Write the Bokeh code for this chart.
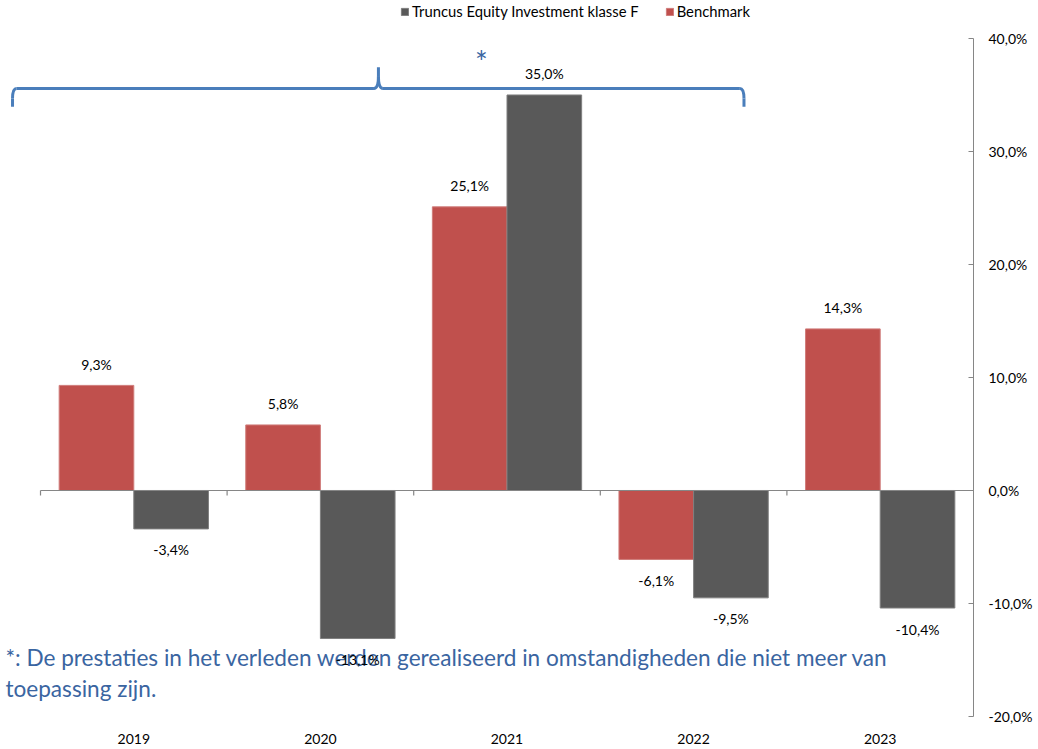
from bokeh.plotting import figure
from bokeh.models import Range1d, FixedTicker, Legend, LegendItem, ColumnDataSource
from bokeh.embed import file_html
from bokeh.resources import INLINE
from bokeh.core.properties import value
from bokeh.transform import dodge

# ---------------- data ----------------
years = ["2019", "2020", "2021", "2022", "2023"]
benchmark = [9.3, 5.8, 25.1, -6.1, 14.3]
truncus = [-3.4, -13.1, 35.0, -9.5, -10.4]
y_ticks = [-20, -10, 0, 10, 20, 30, 40]
series_names = ["Truncus Equity Investment klasse F", "Benchmark"]
footnote_lines = [
    "*: De prestaties in het verleden werden gerealiseerd in omstandigheden die niet meer van",
    "toepassing zijn.",
]
asterisk = "*"

# ---------------- style ----------------
FONT = "Lato"
RED = "#C0504D"
GREY = "#595959"
BRACE_BLUE = "#4A7EBB"
TEXT_BLUE = "#3A65A1"
AXIS = "#868686"


def pct(v):
    return f"{v:.1f}%".replace(".", ",")


centers = [i + 0.5 for i in range(len(years))]
src = ColumnDataSource(dict(
    x=centers,
    bench=benchmark,
    trunc=truncus,
    bench_lbl=[pct(v) for v in benchmark],
    trunc_lbl=[pct(v) for v in truncus],
    bench_off=[-21 if v >= 0 else 21 for v in benchmark],
    trunc_off=[-21 if v >= 0 else 21 for v in truncus],
))

p = figure(width=1038, height=749, output_backend="svg", toolbar_location=None,
           x_range=Range1d(-0.2144, len(years)), y_range=Range1d(-20, 43.36),
           y_axis_location="right",
           min_border_left=0, min_border_top=0, min_border_right=65, min_border_bottom=33)
p.outline_line_color = None
p.xgrid.visible = False
p.ygrid.visible = False
p.background_fill_color = "white"

# right y axis
ya = p.yaxis[0]
ya.ticker = FixedTicker(ticks=y_ticks)
ya.major_label_overrides = {t: pct(t) for t in y_ticks}
ya.bounds = (y_ticks[0], y_ticks[-1])
ya.axis_line_color = AXIS
ya.major_tick_line_color = AXIS
ya.major_tick_in = 5
ya.major_tick_out = 0
ya.minor_tick_line_color = None
ya.major_label_standoff = 15
ya.major_label_text_font = FONT
ya.major_label_text_font_size = "14px"
ya.major_label_text_color = "black"

# bottom category labels
xa = p.xaxis[0]
xa.ticker = FixedTicker(ticks=centers)
xa.major_label_overrides = {c: y for c, y in zip(centers, years)}
xa.axis_line_color = None
xa.major_tick_line_color = None
xa.minor_tick_line_color = None
xa.major_label_standoff = 11
xa.major_label_text_font = FONT
xa.major_label_text_font_size = "14px"
xa.major_label_text_color = "black"

# footnote (behind labels)
p.text(x=[-0.188, -0.188], y=[-14.78, -17.52], text=footnote_lines,
       text_font=value(FONT), text_font_size="22.6px", text_color=TEXT_BLUE,
       text_align="left", text_baseline="middle")

# bars
r_b = p.vbar(x=dodge("x", -0.2), top="bench", bottom=0, width=0.4, source=src,
             fill_color=RED, line_color="#CF7C7A", line_width=1)
r_t = p.vbar(x=dodge("x", 0.2), top="trunc", bottom=0, width=0.4, source=src,
             fill_color=GREY, line_color="#7F7F7F", line_width=1)

# zero axis line with category separators
n = len(years)
p.segment(x0=[0], y0=[0], x1=[n], y1=[0], line_color=AXIS, line_width=1.2)
p.segment(x0=list(range(n)), y0=[0] * n, x1=list(range(n)), y1=[-0.45] * n,
          line_color=AXIS, line_width=1.2)

# data labels
for ycol, tcol, ocol, off in [("bench", "bench_lbl", "bench_off", -0.2),
                              ("trunc", "trunc_lbl", "trunc_off", 0.2)]:
    p.text(x=dodge("x", off), y=ycol, text=tcol, y_offset=ocol, source=src,
           text_font=value(FONT), text_font_size="14px", text_color="black",
           text_align="center", text_baseline="middle")

# brace annotation
bx0, bxm, bx1 = -0.150, 1.811, 3.770
by_end, by_mid, by_peak = 33.95, 35.58, 37.45
cdx, sdx, cdy = 0.022, 0.024, 0.9
bw = 3
p.segment(x0=[bx0, bx1], y0=[by_end, by_end], x1=[bx0, bx1], y1=[by_mid - cdy, by_mid - cdy],
          line_color=BRACE_BLUE, line_width=bw)
p.quadratic(x0=[bx0, bx1], y0=[by_mid - cdy, by_mid - cdy],
            x1=[bx0 + cdx, bx1 - cdx], y1=[by_mid, by_mid],
            cx=[bx0, bx1], cy=[by_mid, by_mid], line_color=BRACE_BLUE, line_width=bw)
p.segment(x0=[bx0 + cdx, bxm + sdx], y0=[by_mid, by_mid], x1=[bxm - sdx, bx1 - cdx], y1=[by_mid, by_mid],
          line_color=BRACE_BLUE, line_width=bw)
p.quadratic(x0=[bxm - sdx, bxm + sdx], y0=[by_mid, by_mid], x1=[bxm, bxm], y1=[by_peak - 0.8, by_peak - 0.8],
            cx=[bxm, bxm], cy=[by_mid, by_mid], line_color=BRACE_BLUE, line_width=bw)
p.segment(x0=[bxm], y0=[by_peak - 0.8], x1=[bxm], y1=[by_peak], line_color=BRACE_BLUE, line_width=bw)

p.text(x=[2.363], y=[38.0], text=[asterisk], text_font=value(FONT), text_font_size="30px",
       text_color=TEXT_BLUE, text_align="center", text_baseline="middle")

# legend
legend = Legend(items=[LegendItem(label=series_names[0], renderers=[r_t]),
                       LegendItem(label=series_names[1], renderers=[r_b])],
                orientation="horizontal", location=(400, 696),
                glyph_width=9, glyph_height=9, label_height=14, label_standoff=3,
                spacing=26, padding=0, margin=0,
                label_text_font=FONT, label_text_font_size="14.8px", label_text_color="black",
                background_fill_alpha=0, border_line_color=None)
p.add_layout(legend)

open("out.html", "w").write(file_html(p, INLINE))
